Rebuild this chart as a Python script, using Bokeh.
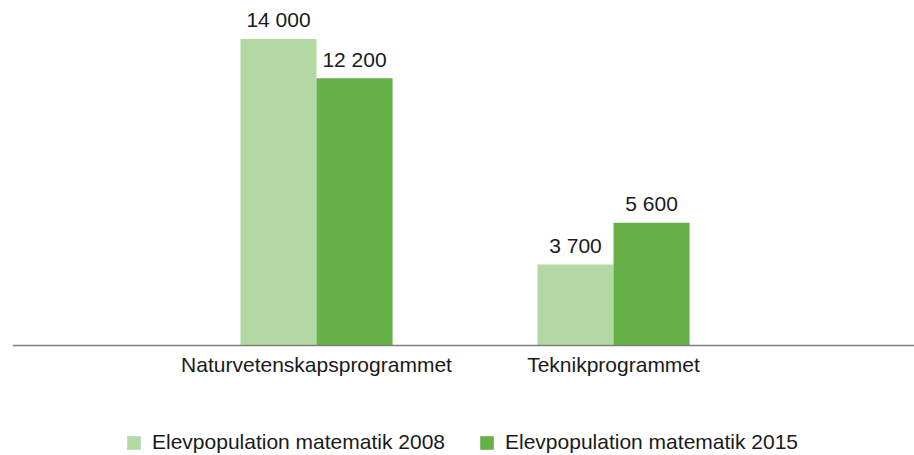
from bokeh.plotting import figure
from bokeh.models import ColumnDataSource, Range1d, Legend, LegendItem, Span
from bokeh.transform import dodge
from bokeh.core.properties import value
from bokeh.embed import file_html
from bokeh.resources import INLINE

categories = ["Naturvetenskapsprogrammet", "Teknikprogrammet"]
series_names = ["Elevpopulation matematik 2008", "Elevpopulation matematik 2015"]
values_2008 = [14000, 3700]
values_2015 = [12200, 5600]

colors = ["#b3d8a4", "#65b147"]
FONT = "Liberation Sans"
TXT = "#1a1a1a"

def fmt(v):
    return f"{v:,}".replace(",", " ")

idx = list(range(len(categories)))
src = ColumnDataSource(dict(
    x=idx,
    base=[0] * len(idx),
    cat=categories,
    v2008=values_2008,
    v2015=values_2015,
    l2008=[fmt(v) for v in values_2008],
    l2015=[fmt(v) for v in values_2015],
))

p = figure(width=914, height=455, output_backend="svg", toolbar_location=None,
           x_range=Range1d(-1.0236, 2.0134), y_range=Range1d(-5023, 15753),
           min_border_left=12, min_border_right=0, min_border_top=0, min_border_bottom=0)
p.outline_line_color = None
p.grid.visible = False
p.axis.visible = False
p.background_fill_color = None
p.border_fill_color = "white"

bw = 0.256
r1 = p.vbar(x=dodge("x", -bw / 2, range=p.x_range), top="v2008", width=bw, bottom="base",
            source=src, fill_color=colors[0], line_color=None)
r2 = p.vbar(x=dodge("x", bw / 2, range=p.x_range), top="v2015", width=bw, bottom="base",
            source=src, fill_color=colors[1], line_color=None)

p.add_layout(Span(location=0, dimension="width", line_color="#7f7f7f", line_width=1.5))

for col, off in (("2008", -bw / 2), ("2015", bw / 2)):
    p.text(x=dodge("x", off, range=p.x_range), y="v" + col, text="l" + col, source=src,
           y_offset=-19, text_align="center", text_baseline="alphabetic",
           text_font=value(FONT), text_font_size="21px", text_color=TXT)

p.text(x="x", y="base", text="cat", source=src, y_offset=19,
       text_align="center", text_baseline="alphabetic",
       text_font=value(FONT), text_font_size="21px", text_color=TXT)

legend = Legend(items=[LegendItem(label=series_names[0], renderers=[r1]),
                       LegendItem(label=series_names[1], renderers=[r2])],
                orientation="horizontal", location=(113, 1),
                border_line_color=None, background_fill_alpha=0,
                label_text_font=FONT, label_text_font_size="21px", label_text_color=TXT,
                glyph_width=17, glyph_height=17, label_standoff=10, spacing=33,
                margin=0, padding=0)
p.add_layout(legend)

open("out.html", "w").write(file_html(p, INLINE))
